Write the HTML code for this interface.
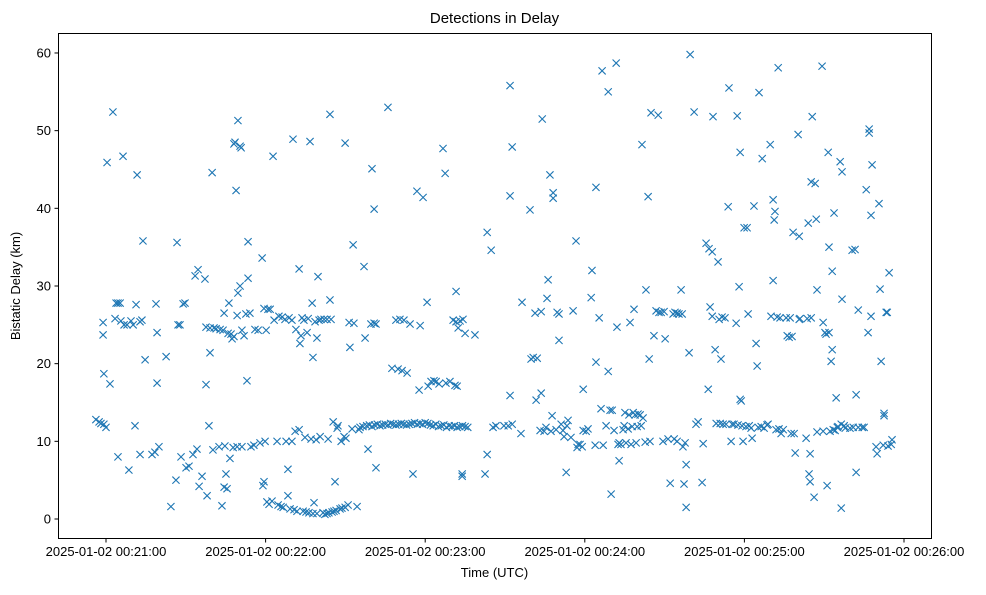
<!DOCTYPE html>
<html><head><meta charset="utf-8"><style>
body{margin:0;background:#fff;}
svg text{font-family:"Liberation Sans",sans-serif;fill:#000;}
</style></head><body>
<svg id="chart" width="986" height="590" xmlns="http://www.w3.org/2000/svg">
<rect width="986" height="590" fill="#fff"/>
<text x="494.5" y="23" font-size="15" text-anchor="middle">Detections in Delay</text>
<g id="marks"></g>
<g id="axes"></g>
<rect x="58.5" y="33.5" width="873" height="505" fill="none" stroke="#000" stroke-width="1"/>
<text x="494.5" y="577" font-size="13" text-anchor="middle">Time (UTC)</text>
<text transform="translate(20,286) rotate(-90)" font-size="13" text-anchor="middle">Bistatic Delay (km)</text>
</svg>
<script>
// seconds after 2025-01-02 00:21:00 , bistatic delay km
const xTickSeconds = [0, 60, 120, 180, 240, 300];
const xTickLabels = ["2025-01-02 00:21:00","2025-01-02 00:22:00","2025-01-02 00:23:00","2025-01-02 00:24:00","2025-01-02 00:25:00","2025-01-02 00:26:00"];
const yTicks = [0, 10, 20, 30, 40, 50, 60];
const bandTimes = [98,99,100,101,102,103,104,105,106,107,108,109,110,111,112,113,114,115,116,117,118,119,120,121,122,123,124,125,126,127,128,129,130,131,132,133,134,135,136];
const bandDelays = [12.0,12.1,11.9,12.1,12.2,12.0,12.1,12.2,12.1,12.3,12.2,12.1,12.2,12.3,12.2,12.1,12.2,12.3,12.4,12.2,12.3,12.2,12.4,12.3,12.1,12.0,12.2,11.9,12.0,12.1,11.8,12.0,11.9,12.0,11.8,11.9,12.0,11.9,11.8];
const detections = [
[-3.8,12.8],[-2.6,12.5],[-1.9,12.3],[-0.8,12.2],[0,11.8],[-1.1,25.3],[-1.1,23.7],[-0.8,18.7],[0.4,45.9],[1.5,17.4],[2.6,52.4],[3.4,25.8],[3.8,27.8],[4.5,27.8],[5.3,27.8],[4.5,8.0],[5.6,25.5],[6.4,46.7],[6.8,25.0],[7.9,25.0],[8.6,6.3],[9.4,25.5],[10.2,25.0],[10.9,12.0],[11.3,27.6],[11.7,44.3],[12.8,25.4],[12.8,8.3],[13.5,25.6],[13.9,35.8],[14.7,20.5],[17.3,8.3],[18.4,8.6],[18.8,27.7],[19.2,24.0],[19.2,17.5],[19.9,9.3],[22.6,20.9],[24.4,1.6],[26.3,5.0],[26.7,35.6],[27.1,25.0],[27.8,25.0],[28.2,8.0],[29.0,27.7],[29.7,27.8],[30.1,6.6],[31.2,6.8],[32.7,8.3],[33.5,31.3],[34.2,9.0],[34.6,32.1],[35.0,4.2],[36.1,5.5],[37.2,30.9],[37.6,17.3],[37.6,24.7],[38.0,3.0],[38.7,12.0],[39.1,21.4],[39.1,24.6],[39.9,44.6],[40.2,8.9],[40.6,24.6],[41.4,24.5],[42.5,9.3],[42.9,24.4],[43.6,1.7],[44.0,24.3],[44.4,26.5],[44.4,4.1],[44.7,9.4],[45.1,5.8],[45.5,3.9],[45.9,23.9],[46.2,27.8],[46.6,7.8],[47.0,23.8],[47.4,23.2],[47.8,9.2],[48.1,48.3],[48.1,23.5],[48.5,48.5],[48.9,42.3],[49.3,26.2],[49.3,9.3],[49.6,51.3],[49.6,29.1],[50.4,48.0],[50.4,30.0],[50.8,47.8],[51.1,24.3],[51.1,9.3],[51.9,23.6],[52.6,26.4],[53.0,17.8],[53.4,35.7],[53.4,31.0],[54.1,26.5],[54.5,9.3],[55.6,9.5],[56.0,24.4],[57.2,24.3],[57.9,9.8],[58.7,33.6],[59.0,4.3],[59.4,4.8],[59.4,27.1],[59.8,10.0],[60.2,24.3],[60.5,2.2],[60.9,27.0],[61.3,1.9],[61.7,27.0],[62.4,2.3],[62.8,46.7],[63.2,25.6],[64.3,10.0],[64.7,1.8],[65.0,26.1],[65.8,1.6],[66.2,26.0],[66.6,1.5],[67.3,25.7],[67.7,10.0],[68.4,3.0],[68.4,6.4],[68.8,25.9],[69.2,1.3],[69.9,10.0],[69.9,25.6],[70.3,48.9],[70.7,1.2],[71.1,11.3],[71.4,24.4],[71.8,1.0],[72.6,32.2],[72.6,11.5],[72.9,22.6],[73.3,23.6],[73.7,25.9],[74.1,1.0],[74.4,25.6],[74.8,10.5],[75.2,0.9],[75.6,24.0],[76.0,25.8],[76.3,0.8],[76.7,48.6],[77.1,10.3],[77.5,27.8],[77.8,0.7],[77.8,20.8],[78.2,2.1],[78.6,25.4],[79.0,10.2],[79.3,0.7],[79.3,23.3],[79.7,31.2],[80.1,25.6],[80.5,10.6],[80.8,25.7],[81.6,0.8],[82.0,25.7],[82.3,0.6],[83.1,0.7],[83.1,25.7],[83.5,10.3],[83.8,0.8],[84.2,28.2],[84.2,52.1],[84.6,25.7],[85.0,0.9],[85.4,12.5],[85.7,1.0],[86.1,4.8],[86.5,1.1],[86.9,11.7],[87.2,12.0],[88.0,1.3],[88.4,10.0],[88.7,1.4],[89.5,10.6],[89.9,48.4],[89.9,1.5],[90.2,10.4],[91.0,1.8],[91.4,25.3],[91.7,22.1],[92.5,11.6],[92.9,35.3],[93.2,25.2],[94.4,1.6],[95.1,11.5],[95.5,11.8],[96.6,11.9],[97.0,32.5],[97.4,23.3],[98.5,9.0],[99.6,25.1],[100.0,45.1],[100.8,39.9],[100.8,25.2],[101.5,25.1],[101.5,6.6],
[106.0,53.0],[107.5,19.4],[109.0,25.6],[109.8,19.3],[110.5,25.7],[111.3,19.1],[112.0,25.6],[113.2,18.8],[114.3,25.1],[115.4,5.8],[116.9,42.2],[117.7,16.6],[118.1,24.9],[119.2,41.4],[120.7,27.9],[121.1,17.1],[122.2,17.7],[123.3,17.8],[124.1,17.7],[125.2,17.4],[126.7,47.7],[127.5,44.5],[127.8,17.5],[129.3,17.7],[130.5,25.6],[131.6,29.3],[131.6,25.4],[131.2,17.2],[132.0,17.1],[132.4,24.6],[133.1,25.5],[133.9,5.5],[133.9,5.8],[134.2,25.7],[135.0,23.9],[138.7,23.7],[142.5,5.8],[143.3,8.3],[143.3,36.9],[144.8,34.6],[145.5,11.8],[146.6,12.0],[149.6,12.0],[151.2,12.0],[151.9,15.9],[151.9,41.6],[151.9,55.8],[152.7,12.2],[152.7,47.9],[156.0,11.0],[156.4,27.9],[159.4,39.8],[159.8,20.6],[160.6,20.8],[161.3,26.5],[161.7,15.3],[162.1,20.7],[163.2,11.4],[163.6,26.7],[163.6,16.2],[164.0,51.5],[164.7,11.3],[165.4,11.8],[165.8,28.4],[166.2,30.8],[166.9,44.3],[167.3,11.3],[167.7,13.3],[168.1,41.3],[168.1,42.0],[169.2,11.5],[169.6,26.6],[170.3,26.4],[170.3,23.0],[171.1,12.2],[171.8,11.4],[172.2,10.6],[173.0,6.0],[173.3,12.0],[173.7,12.7],[174.8,10.5],[175.6,26.8],[176.7,35.8],[177.1,9.2],[177.5,9.6],[178.2,9.6],[179.0,9.3],[179.4,16.7],[179.4,11.4],[180.5,11.3],[181.2,11.6],[182.4,28.5],[182.7,32.0],[183.9,9.5],[184.2,20.2],[184.2,42.7],[185.4,25.9],[186.1,14.2],[186.5,57.7],[186.9,9.5],[188.0,12.0],[188.8,55.0],[188.8,19.0],[189.5,14.0],[189.9,3.2],[190.3,14.0],[191.0,11.4],[191.8,58.7],[192.1,24.7],[192.5,9.6],[192.9,9.8],[192.9,7.5],[193.6,9.6],[194.4,11.5],[194.8,12.0],[195.1,13.7],[195.5,9.8],[196.3,11.6],[196.6,13.4],[197.0,25.3],[197.4,9.6],[197.8,11.9],[198.2,13.7],[198.5,27.0],[198.9,13.4],[199.3,9.8],[199.7,11.9],[200.0,13.5],[200.8,13.4],[201.2,12.0],[201.5,48.2],[201.9,13.0],[202.7,9.9],[203.0,29.5],[203.8,41.5],[204.2,20.6],[204.5,10.0],[204.9,52.3],[206.0,23.6],[206.8,26.8],[207.6,52.0],[207.9,26.6],[208.7,26.6],[209.4,10.0],[209.8,26.7],[210.2,23.2],[211.3,10.3],[212.1,4.6],[213.2,26.4],[213.6,10.3],[213.9,26.6],[214.7,26.5],[214.7,10.0],[215.4,26.4],[216.2,29.5],[216.6,26.4],[216.9,9.3],[217.3,4.5],[217.7,9.8],[218.1,7.0],[218.1,1.5],[219.2,21.4],[219.6,59.8],[221.1,52.4],[221.8,12.2],[222.6,12.5],[224.1,4.7],[224.5,9.7],[225.6,35.5],[226.4,16.7],[226.7,34.8],[227.1,27.3],[227.9,26.1],[227.9,34.4],[228.2,51.8],[229.0,21.8],[229.4,12.3],[230.1,33.1],[230.5,25.7],[230.9,12.3],[231.2,20.6],[231.6,26.0],[232.0,12.2],[232.7,25.9],[233.1,12.2],[233.9,40.2],[234.2,55.5],[235.0,10.0],[235.4,12.2],[236.1,12.2],[236.9,25.2],[237.3,51.9],[237.6,12.1],[238.0,29.9],[238.4,47.2],[238.4,15.4],[238.8,15.2],[239.1,12.0],[239.5,10.0],[239.9,37.5],[240.6,11.9],[241.0,37.5],[241.4,26.4],[241.8,12.0],[242.5,11.7],[242.9,10.4],[243.6,40.3],[244.4,22.6],[244.8,19.7],[245.2,11.8],[245.5,54.9],[246.3,11.9],[246.7,46.4],[247.4,11.7],[248.5,12.1],[248.9,12.2],[249.7,48.2],[250.0,26.1],[250.8,30.7],[250.8,41.1],[251.2,38.5],[251.5,39.6],[251.9,11.5],[252.3,26.0],[252.7,58.1],[253.0,11.6],[253.4,25.9],[253.8,11.0],[254.6,11.5],[255.7,25.9],[256.1,23.6],[256.8,23.4],[257.2,25.9],[257.6,11.0],[257.9,23.5],[258.3,36.9],[258.7,11.0],[259.1,8.5],[260.2,49.5],[260.6,25.7],[260.6,36.4],[260.9,25.8],[263.2,10.4],[263.6,25.8],[264.0,38.1],[264.3,5.8],[264.7,8.4],[264.7,4.8],[265.1,25.9],[265.1,43.4],[265.5,51.8],[266.2,2.8],[266.6,43.2],[267.0,38.6],[267.3,29.5],[267.3,11.2],[269.2,58.3],[269.6,25.3],[269.6,11.3],[270.3,24.0],[270.7,23.8],[271.1,4.3],[271.8,24.0],[271.5,47.2],[271.8,35.0],[272.2,11.3],[272.6,20.3],[273.0,21.8],[273.0,31.9],[273.4,11.5],[273.7,39.4],[274.1,11.4],[274.5,15.6],[274.9,11.8],[275.2,11.9],[276.0,46.0],[276.4,12.2],[276.4,1.4],[276.7,28.3],[276.7,44.7],[277.5,12.0],[277.9,11.7],[279.7,11.7],[280.5,34.6],[280.9,11.8],[281.6,34.7],[282.0,6.0],[282.0,16.0],[282.8,26.9],[282.8,11.8],[284.3,11.8],[285.0,11.8],[285.8,42.4],[286.5,24.0],[286.9,50.2],[286.9,49.7],[287.6,39.1],[287.6,26.1],[288.0,45.6],[289.5,9.3],[289.9,8.4],[290.6,40.6],[291.0,29.6],[291.4,20.3],[292.2,9.5],[292.5,13.6],[292.5,13.3],[293.3,26.6],[293.7,26.6],[294.0,9.4],[294.4,31.7],[295.2,9.6],[295.5,10.2]
];
const NS="http://www.w3.org/2000/svg";
const xScale = s => 106 + s * 159.6 / 60;
const yScale = v => 519 - v * 7.767;
const marks = document.getElementById('marks');
const axes = document.getElementById('axes');
function addMarker(t, v) {
  const cx = xScale(t), cy = yScale(v), r = 3.6;
  const p = document.createElementNS(NS, 'path');
  p.setAttribute('d', `M${cx-r},${cy-r}L${cx+r},${cy+r}M${cx-r},${cy+r}L${cx+r},${cy-r}`);
  p.setAttribute('stroke', '#1f77b4');
  p.setAttribute('stroke-width', '1.1');
  p.setAttribute('fill', 'none');
  
  
  marks.appendChild(p);
}
detections.forEach(d => addMarker(d[0], d[1]));
bandTimes.forEach((t, i) => addMarker(t, bandDelays[i]));
xTickSeconds.forEach((s, i) => {
  const x = xScale(s);
  const l = document.createElementNS(NS, 'line');
  l.setAttribute('x1', x); l.setAttribute('x2', x); l.setAttribute('y1', 538.5); l.setAttribute('y2', 542.5);
  l.setAttribute('stroke', '#000');
  
  
  axes.appendChild(l);
  const t = document.createElementNS(NS, 'text');
  t.setAttribute('x', x); t.setAttribute('y', 556); t.setAttribute('font-size', '13'); t.setAttribute('text-anchor', 'middle');
  t.textContent = xTickLabels[i];
  
  
  axes.appendChild(t);
});
yTicks.forEach(v => {
  const y = yScale(v);
  const l = document.createElementNS(NS, 'line');
  l.setAttribute('x1', 54.5); l.setAttribute('x2', 58.5); l.setAttribute('y1', y); l.setAttribute('y2', y);
  l.setAttribute('stroke', '#000');
  
  
  axes.appendChild(l);
  const t = document.createElementNS(NS, 'text');
  t.setAttribute('x', 51); t.setAttribute('y', y + 4.5); t.setAttribute('font-size', '13'); t.setAttribute('text-anchor', 'end');
  t.textContent = v;
  
  
  axes.appendChild(t);
});
</script>
</body></html>
